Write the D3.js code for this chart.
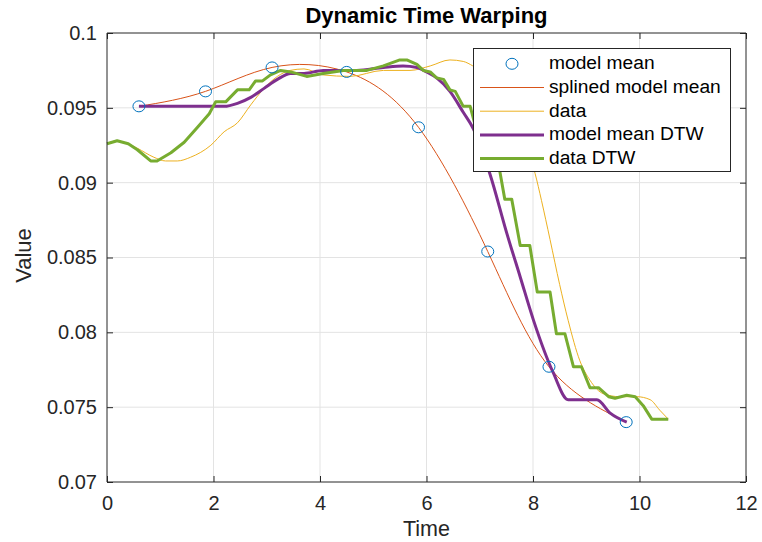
<!DOCTYPE html>
<html><head><meta charset="utf-8">
<script src="https://cdn.jsdelivr.net/npm/d3@7"></script>
<style>body{margin:0;background:#fff}svg{display:block}text{font-family:"Liberation Sans",Arial,Helvetica,sans-serif}</style>
</head><body><svg id="c" width="762" height="542"></svg>
<script>
const xTicks=[0,2,4,6,8,10,12];
const yTicks=[0.07,0.075,0.08,0.085,0.09,0.095,0.1];
const yTickLabels=["0.07","0.075","0.08","0.085","0.09","0.095","0.1"];
const legendLabels=["model mean","splined model mean","data","model mean DTW","data DTW"];

const modelTime=[0.6,1.85,3.1,4.5,5.85,7.15,8.3,9.75];
const modelMean=[0.0951,0.0961,0.0977,0.0974,0.0937,0.0854,0.0777,0.0740];

const dataTime=[0,0.19,0.32,0.57,0.88,1.10,1.32,1.57,1.95,2.2,2.45,2.70,2.95,3.2,3.44,3.7,4.06,4.56,5.19,5.69,6.07,6.44,6.69,6.87,7.1,7.4,7.7,8.04,8.16,8.32,8.5,8.66,8.88,9.07,9.32,9.63,9.95,10.2,10.38,10.54];
const dataVal=[0.0926,0.0928,0.0927,0.0923,0.0917,0.09145,0.09145,0.0917,0.0925,0.0934,0.0940,0.0952,0.0963,0.0971,0.0975,0.0976,0.0972,0.0971,0.0975,0.0975,0.0978,0.0982,0.0981,0.0978,0.0972,0.0958,0.0935,0.0906,0.0888,0.0862,0.0832,0.0808,0.0781,0.0768,0.0759,0.0757,0.0757,0.0755,0.0748,0.0742];

const mdtwTime=[0.6,2.2,2.45,2.70,2.95,3.2,3.45,3.7,4.06,4.69,5.19,5.56,5.82,6.0,6.19,6.44,6.69,6.88,7.19,7.51,7.76,8.01,8.38,8.66,9.2,9.45,9.76];
const mdtwVal=[0.0951,0.0951,0.0953,0.0957,0.0963,0.0969,0.0973,0.0973,0.0975,0.0975,0.0977,0.0978,0.0977,0.0974,0.0970,0.0961,0.0947,0.0936,0.0906,0.0866,0.0837,0.0808,0.0773,0.0755,0.0755,0.0746,0.0740];

const ddtwTime=[0,0.19,0.4,0.57,0.82,0.94,1.2,1.45,1.70,1.92,2.04,2.23,2.45,2.67,2.79,2.92,3.07,3.26,3.45,3.75,4.06,4.44,4.88,5.19,5.50,5.63,5.82,5.94,6.07,6.19,6.32,6.44,6.54,6.69,6.82,6.91,7.0,7.1,7.2,7.3,7.38,7.47,7.6,7.76,7.94,8.08,8.32,8.44,8.6,8.76,8.91,9.07,9.23,9.42,9.54,9.76,9.92,10.07,10.23,10.54];
const ddtwVal=[0.0926,0.0928,0.0926,0.0922,0.09145,0.09145,0.0920,0.0927,0.0937,0.0946,0.0954,0.0954,0.0962,0.0962,0.0968,0.0968,0.0972,0.0975,0.0974,0.0971,0.0973,0.0975,0.0975,0.0978,0.0982,0.0982,0.0979,0.0975,0.0974,0.0970,0.0969,0.0962,0.0961,0.0951,0.0951,0.0939,0.0932,0.0932,0.0920,0.0920,0.0907,0.0889,0.0889,0.0858,0.0858,0.0827,0.0827,0.0799,0.0799,0.0777,0.0777,0.0763,0.0763,0.0757,0.0756,0.0758,0.0757,0.0751,0.0742,0.0742];

const C={blue:"#0072BD",orange:"#D95319",yellow:"#EDB120",purple:"#7E2F8E",green:"#77AC30",axis:"#262626"};
const L=107,R=746,T=33,B=482;
const svg=d3.select("#c");
const x=d3.scaleLinear().domain([0,12]).range([L,R]);
const y=d3.scaleLinear().domain([0.07,0.1]).range([B,T]);

// grid
const g=svg.append("g");
g.selectAll(".gx").data(xTicks.slice(1,-1)).join("line").attr("x1",d=>x(d)).attr("x2",d=>x(d)).attr("y1",T).attr("y2",B).attr("stroke","#e3e3e3").attr("stroke-width",1);
g.selectAll(".gy").data(yTicks.slice(1,-1)).join("line").attr("y1",d=>y(d)).attr("y2",d=>y(d)).attr("x1",L).attr("x2",R).attr("stroke","#e3e3e3").attr("stroke-width",1);

const line=(xs,ys,curve)=>d3.line().x(i=>x(xs[i])).y(i=>y(ys[i])).curve(curve||d3.curveLinear)(d3.range(xs.length));
svg.append("path").attr("d",line(modelTime,modelMean,d3.curveNatural)).attr("fill","none").attr("stroke",C.orange).attr("stroke-width",1);
svg.append("path").attr("d",line(dataTime,dataVal,d3.curveMonotoneX)).attr("fill","none").attr("stroke",C.yellow).attr("stroke-width",1);
svg.append("path").attr("d",line(mdtwTime,mdtwVal,d3.curveMonotoneX)).attr("fill","none").attr("stroke",C.purple).attr("stroke-width",3).attr("stroke-linejoin","round");
svg.append("path").attr("d",line(ddtwTime,ddtwVal)).attr("fill","none").attr("stroke",C.green).attr("stroke-width",3).attr("stroke-linejoin","round");
svg.selectAll(".pt").data(d3.range(modelTime.length)).join("ellipse").attr("cx",i=>x(modelTime[i])).attr("cy",i=>y(modelMean[i])).attr("rx",6).attr("ry",5.5).attr("fill","none").attr("stroke",C.blue).attr("stroke-width",1);

// axes box
const ax=svg.append("g");
const xa=d3.axisBottom(x).tickValues(xTicks).tickSize(-6).tickPadding(14).tickFormat(d3.format("d"));
const ya=d3.axisLeft(y).tickValues(yTicks).tickSize(-6).tickPadding(10).tickFormat((d,i)=>yTickLabels[i]);
const gx=ax.append("g").attr("transform",`translate(0,${B})`).call(xa);
const gy=ax.append("g").attr("transform",`translate(${L},0)`).call(ya);
const gx2=ax.append("g").attr("transform",`translate(0,${T})`).call(d3.axisTop(x).tickValues(xTicks).tickSize(-6).tickFormat(""));
const gy2=ax.append("g").attr("transform",`translate(${R},0)`).call(d3.axisRight(y).tickValues(yTicks).tickSize(-6).tickFormat(""));
[gx,gy,gx2,gy2].forEach(s=>{s.selectAll("path").attr("stroke",C.axis).attr("stroke-width",1);s.selectAll("line").attr("stroke",C.axis);s.selectAll("text").attr("fill",C.axis).attr("font-size",20).attr("font-family","Liberation Sans, Arial, sans-serif");});
gx.selectAll("path").attr("d",`M${L},0H${R}`);
gx2.selectAll("path").attr("d",`M${L},0H${R}`);
gy.selectAll("path").attr("d",`M0,${T}V${B}`);
gy2.selectAll("path").attr("d",`M0,${T}V${B}`);

svg.append("text").attr("x",(L+R)/2).attr("y",23).attr("text-anchor","middle").attr("font-weight","bold").attr("font-size",22).attr("fill","#000").text("Dynamic Time Warping");
svg.append("text").attr("x",(L+R)/2).attr("y",536).attr("text-anchor","middle").attr("font-size",21.5).attr("fill",C.axis).text("Time");
svg.append("text").attr("transform",`translate(31,${(T+B)/2-2}) rotate(-90)`).attr("text-anchor","middle").attr("font-size",22).attr("fill",C.axis).text("Value");

// legend
const lg=svg.append("g");
lg.append("rect").attr("x",473.5).attr("y",48.5).attr("width",257).attr("height",123).attr("fill","#fff").attr("stroke",C.axis).attr("stroke-width",1);
const styles=[{c:C.blue,w:1,m:true},{c:C.orange,w:1},{c:C.yellow,w:1},{c:C.purple,w:3},{c:C.green,w:3}];
legendLabels.forEach((t,i)=>{
  const s=styles[i], base=69.3+i*23.7, cy=base-5.5;
  if(s.m) lg.append("ellipse").attr("cx",512).attr("cy",cy).attr("rx",6).attr("ry",5.5).attr("fill","none").attr("stroke",s.c);
  else lg.append("line").attr("x1",480).attr("x2",544).attr("y1",cy).attr("y2",cy).attr("stroke",s.c).attr("stroke-width",s.w);
  lg.append("text").attr("x",549).attr("y",base).attr("font-size",19.2).attr("fill","#000").text(t);
});
</script></body></html>
